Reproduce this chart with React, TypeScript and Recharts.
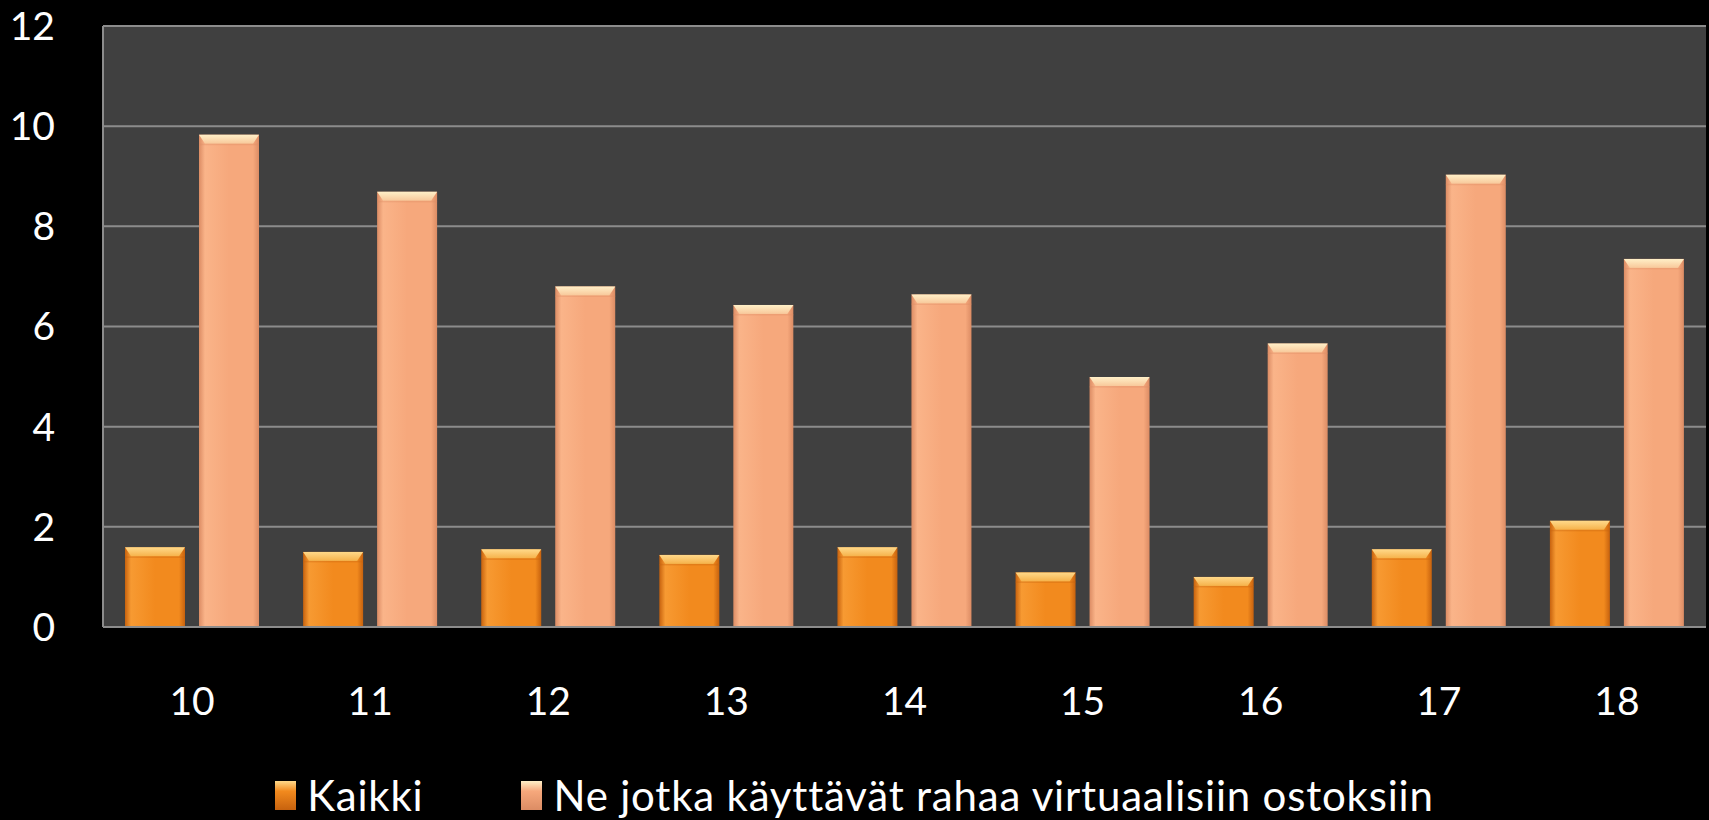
import { BarChart, Bar, XAxis, YAxis, CartesianGrid, Legend } from 'recharts';

const ages = ['10', '11', '12', '13', '14', '15', '16', '17', '18'];
const kaikki = [1.59, 1.5, 1.55, 1.44, 1.59, 1.09, 1.0, 1.55, 2.12];
const ostajat = [9.83, 8.69, 6.8, 6.43, 6.64, 4.99, 5.66, 9.03, 7.35];
const seriesNames = ['Kaikki', 'Ne jotka käyttävät rahaa virtuaalisiin ostoksiin'];
const yTicks = [0, 2, 4, 6, 8, 10, 12];

const chartData = ages.map((age, i) => ({ age, kaikki: kaikki[i], ostajat: ostajat[i] }));

const FONT = 'Lato, "Open Sans", sans-serif';

const palettes: Record<string, { edge: string; mid: string; light: string; bevel: string; bevelEdge: string }> = {
  kaikki: { edge: '#c7620e', mid: '#f28a1e', light: '#f79a32', bevel: '#ffd98a', bevelEdge: '#f6b24a' },
  ostajat: { edge: '#dc8c64', mid: '#f6a87c', light: '#fab489', bevel: '#fff0c8', bevelEdge: '#f8c89a' },
};

function BevelBar(props: any) {
  const { x, y, width, height, dataKey } = props;
  if (!height || height <= 0) return null;
  const key = dataKey as string;
  const p = palettes[key];
  const b = Math.min(9, height);
  const inset = 6;
  return (
    <g>
      <rect x={x} y={y} width={width} height={height} fill={`url(#body-${key})`} />
      <path
        d={`M${x},${y} L${x + width},${y} L${x + width - inset},${y + b} L${x + inset},${y + b} Z`}
        fill={`url(#bevel-${key})`}
      />
      <rect x={x} y={y + b} width={width} height={1.5} fill={p.edge} opacity={0.35} />
    </g>
  );
}

function LegendContent() {
  const colors = ['kaikki', 'ostajat'];
  return (
    <div
      style={{
        display: 'flex',
        justifyContent: 'center',
        alignItems: 'center',
        fontFamily: FONT,
        color: '#fff',
        fontSize: 42,
        letterSpacing: 0.8,
        whiteSpace: 'nowrap',
      }}
    >
      {seriesNames.map((name, i) => {
        const p = palettes[colors[i]];
        return (
          <div key={name} style={{ display: 'flex', alignItems: 'center', marginRight: i === 0 ? 98 : 0 }}>
            <span
              style={{
                display: 'inline-block',
                width: 21,
                height: 29,
                marginRight: 11,
                background: `linear-gradient(to bottom, ${p.bevel} 0%, ${p.mid} 35%, ${p.edge} 100%)`,
              }}
            />
            <span>{name}</span>
          </div>
        );
      })}
    </div>
  );
}

export default function App() {
  return (
    <div style={{ position: 'absolute', left: 0, top: 0, width: 1709, height: 820, background: '#000' }}>
      <BarChart
        width={1709}
        height={820}
        data={chartData}
        margin={{ top: 26, right: 3, left: 0, bottom: 73 }}
        barCategoryGap={22}
        barGap={14}
      >
        <defs>
          {Object.keys(palettes).map((k) => (
            <linearGradient key={`body-${k}`} id={`body-${k}`} x1="0" y1="0" x2="1" y2="0">
              <stop offset="0%" stopColor={palettes[k].edge} />
              <stop offset="10%" stopColor={palettes[k].light} />
              <stop offset="50%" stopColor={palettes[k].mid} />
              <stop offset="90%" stopColor={palettes[k].mid} />
              <stop offset="100%" stopColor={palettes[k].edge} />
            </linearGradient>
          ))}
          {Object.keys(palettes).map((k) => (
            <linearGradient key={`bevel-${k}`} id={`bevel-${k}`} x1="0" y1="0" x2="0" y2="1">
              <stop offset="0%" stopColor={palettes[k].bevel} />
              <stop offset="100%" stopColor={palettes[k].bevelEdge} />
            </linearGradient>
          ))}
        </defs>
        <CartesianGrid fill="#404040" stroke="#8c8c8c" strokeWidth={2} vertical={false} />
        <XAxis
          dataKey="age"
          height={120}
          tickSize={0}
          tickMargin={60}
          axisLine={{ stroke: '#8c8c8c', strokeWidth: 2 }}
          tick={{ fill: '#fff', fontSize: 39, fontFamily: FONT }}
        />
        <YAxis
          width={103}
          domain={[0, 12]}
          ticks={yTicks}
          interval={0}
          tickSize={0}
          tickMargin={48}
          axisLine={{ stroke: '#8c8c8c', strokeWidth: 2 }}
          tick={{ fill: '#fff', fontSize: 39, fontFamily: FONT }}
        />
        <Legend
          layout="horizontal"
          verticalAlign="middle"
          align="center"
          wrapperStyle={{ top: 770, left: 0, width: 1709 }}
          content={LegendContent}
        />
        <Bar dataKey="kaikki" name={seriesNames[0]} fill="#f28a1e" shape={BevelBar} isAnimationActive={false} />
        <Bar dataKey="ostajat" name={seriesNames[1]} fill="#f6a87c" shape={BevelBar} isAnimationActive={false} />
      </BarChart>
    </div>
  );
}
